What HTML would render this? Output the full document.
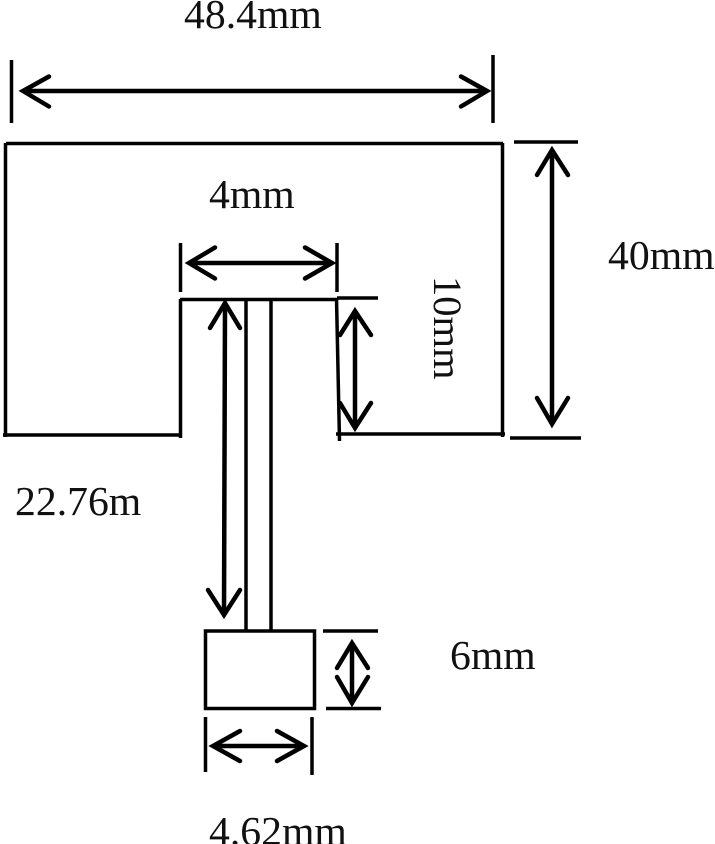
<!DOCTYPE html>
<html>
<head>
<meta charset="utf-8">
<style>
html,body{margin:0;padding:0;background:#fff;width:715px;height:844px;overflow:hidden}
svg{display:block}
text{font-family:"Liberation Serif",serif;font-size:41.7px;fill:#111}
</style>
</head>
<body>
<svg width="715" height="844" viewBox="0 0 715 844" xmlns="http://www.w3.org/2000/svg">
<rect width="715" height="844" fill="#fff"/>
<g stroke="#000" stroke-width="3.5" fill="none" stroke-linecap="butt">
  <!-- main outline -->
  <path d="M6 143.500H503"/>
  <path d="M5.500 143V437"/>
  <path d="M502.500 143V437"/>
  <path d="M3 435H180"/>
  <path d="M180.500 299V438"/>
  <path d="M180 299.500H337"/>
  <path d="M337 298H378"/>
  <path d="M336.500 298L339.500 441"/>
  <path d="M336 434H505"/>
  <!-- stem -->
  <path d="M246 299V631"/>
  <path d="M271 299V631"/>
  <!-- port box -->
  <rect x="205.500" y="631" width="109" height="77.500"/>
  <!-- ticks -->
  <path d="M11.500 60V123"/>
  <path d="M493 55V123"/>
  <path d="M180.500 243V292"/>
  <path d="M337 243V292"/>
  <path d="M514 142H578"/>
  <path d="M510 438H581"/>
  <path d="M323 631H378"/>
  <path d="M326 708.500H381"/>
  <path d="M205.500 717V772"/>
  <path d="M312 717V775"/>
</g>
<g stroke="#000" stroke-width="4.500" fill="none" stroke-linecap="round" stroke-linejoin="miter">
  <!-- top -->
  <path d="M24 91H484"/>
  <path d="M49 76.500L23 91L49 106.500"/>
  <path d="M461 76.500L487 91L461 106.500"/>
  <!-- 4mm -->
  <path d="M190 263H329"/>
  <path d="M215 247.500L189 263L215 278.500"/>
  <path d="M305 247.500L332 263L305 278.500"/>
  <!-- 40mm -->
  <path d="M552 152V423"/>
  <path d="M537 175L552 150L568 175"/>
  <path d="M537 398L552 424L568 398"/>
  <!-- 10mm -->
  <path d="M355 312V427"/>
  <path d="M340 335L355 311L371 335"/>
  <path d="M340 403L355 428L371 403"/>
  <!-- long -->
  <path d="M225 305L224 614"/>
  <path d="M210 328L225 303L240 328"/>
  <path d="M208 590L224 615L240 590"/>
  <!-- 6mm -->
  <path d="M352 644V702"/>
  <path d="M337 668L352 643L368 668"/>
  <path d="M337 677L352 703L368 677"/>
  <!-- 4.62 -->
  <path d="M214 746H303"/>
  <path d="M240 731L213 746L240 761"/>
  <path d="M277 731L304 746L277 761"/>
</g>
<text x="184" y="28">48.4mm</text>
<text x="209" y="208">4mm</text>
<text x="608" y="269">40mm</text>
<text x="15" y="515">22.76m</text>
<text x="450" y="669">6mm</text>
<text x="209" y="845">4.62mm</text>
<text transform="translate(434 276) rotate(90)" style="font-size:40.5px">10mm</text>
</svg>
</body>
</html>
